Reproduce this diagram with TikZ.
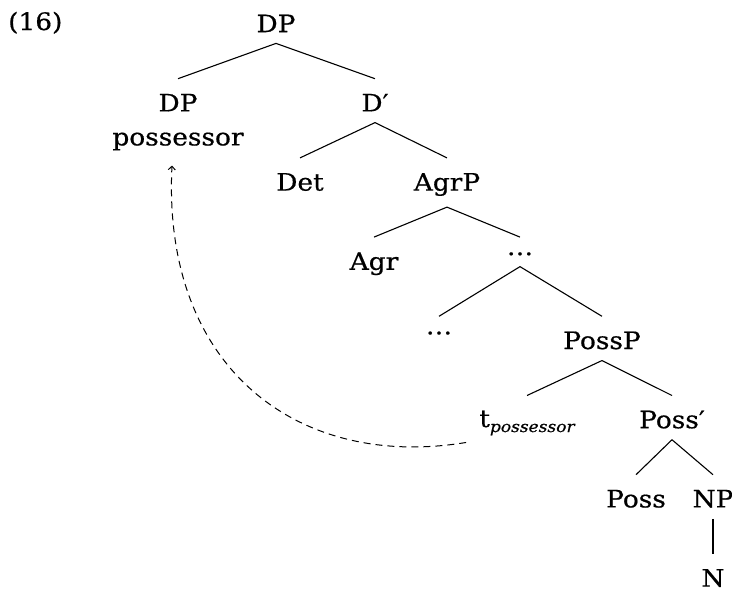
\documentclass[tikz,border=0pt]{standalone}
\usepackage{fontspec}
\setmainfont[FakeStretch=1.1, FakeBold=0.6]{DejaVu Serif}
\usetikzlibrary{arrows.meta}
\tikzset{
  lbl/.style={inner sep=0pt, anchor=north, font=\fontsize{24}{34}\selectfont},
  br/.style={line width=1.1pt},
  mv/.style={line width=1pt, dash pattern=on 7pt off 5pt, -{Straight Barb[length=3.5pt,width=7pt]}}
}
\newcommand{\brn}[2]{\draw[br] ([yshift=-11pt]#1.south) -- ([yshift=15pt]#2.north);}
\begin{document}
\begin{tikzpicture}[x=1pt,y=-1pt]
\useasboundingbox (0,0) rectangle (732,592);
\node[anchor=base west, inner sep=0pt, font=\fontsize{24}{29}\selectfont] (ex) at (8,30) {(16)};
\node[lbl] (dp) at (276,14.5) {DP};
\node[lbl, align=center] (dpl) at (178,93.7) {DP\\possessor};
\node[lbl] (dbar) at (375,93.7) {D′};
\node[lbl] (det) at (300,172.9) {Det};
\node[lbl] (agrp) at (447,172.9) {AgrP};
\node[lbl] (agr) at (374,252.1) {Agr};
\node[lbl] (dotsa) at (520,252.1) {…};
\node[lbl] (dotsb) at (439,331.3) {…};
\node[lbl] (possp) at (602,331.3) {PossP};
\node[lbl] (t) at (527,410.5) {t\raisebox{-5pt}{\fontsize{15.5}{18}\selectfont\itshape possessor}};
\node[lbl] (possbar) at (672,410.5) {Poss′};
\node[lbl] (poss) at (636,489.7) {Poss};
\node[lbl] (np) at (713,489.7) {NP};
\node[lbl] (n) at (713,568.9) {N};
\brn{dp}{dpl}
\brn{dp}{dbar}
\brn{dbar}{det}
\brn{dbar}{agrp}
\brn{agrp}{agr}
\brn{agrp}{dotsa}
\brn{dotsa}{dotsb}
\brn{dotsa}{possp}
\brn{possp}{t}
\brn{possp}{possbar}
\brn{possbar}{poss}
\brn{possbar}{np}
\brn{np}{n}
\draw[mv] ([xshift=-13pt,yshift=-7pt]t.south west) .. controls (300,470) and (162,370) .. ([xshift=-6pt,yshift=-15pt]dpl.south);
\end{tikzpicture}
\end{document}
